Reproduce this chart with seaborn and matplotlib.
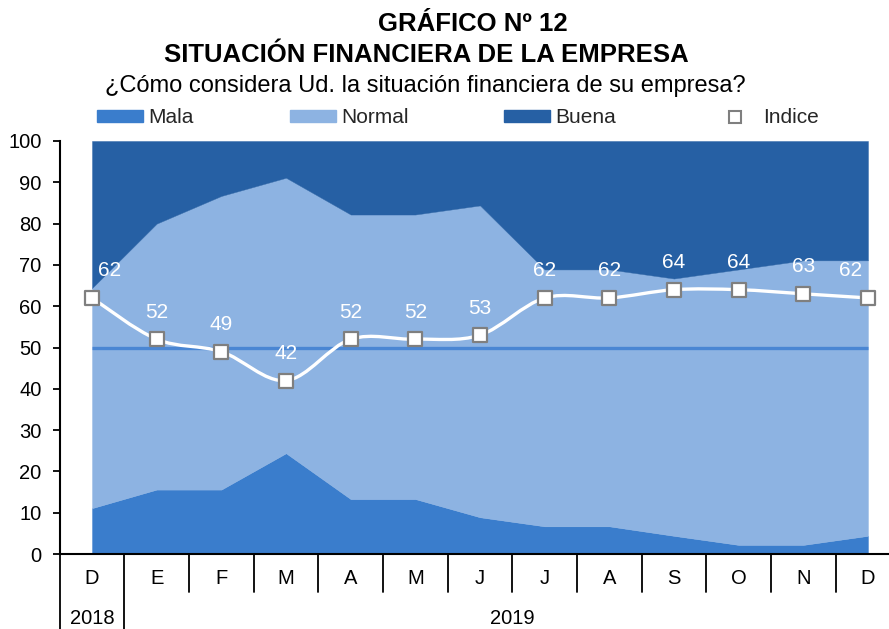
import numpy as np
import matplotlib
matplotlib.use('Agg')
import matplotlib.pyplot as plt
import seaborn as sns
from matplotlib.path import Path
from matplotlib.patches import PathPatch, Patch
from matplotlib.lines import Line2D

# data (percent of firms)
meses = ['D', 'E', 'F', 'M', 'A', 'M', 'J', 'J', 'A', 'S', 'O', 'N', 'D']
anios = ['2018', '2019']
mala = [11.1, 15.6, 15.6, 24.4, 13.3, 13.3, 8.9, 6.7, 6.7, 4.4, 2.2, 2.2, 4.4]
normal = [53.3, 64.4, 71.1, 66.7, 68.9, 68.9, 75.5, 62.2, 62.2, 62.3, 66.7, 68.9, 66.7]
buena = [35.6, 20.0, 13.3, 8.9, 17.8, 17.8, 15.6, 31.1, 31.1, 33.3, 31.1, 28.9, 28.9]
indice = [62, 52, 49, 42, 52, 52, 53, 62, 62, 64, 64, 63, 62]
linea_base = 50

c_mala = '#3a7dcc'
c_normal = '#8db3e2'
c_buena = '#2660a4'
c_base = '#4a86d3'

sns.set_theme(style='white')
plt.rcParams['font.family'] = ['Liberation Sans', 'DejaVu Sans']


def smooth_path(xs, ys):
    # excel-like smoothed line (catmull-rom as cubic bezier)
    pts = np.column_stack([xs, ys]).astype(float)
    n = len(pts)
    verts = [pts[0]]
    codes = [Path.MOVETO]
    for i in range(n - 1):
        p0 = pts[max(i - 1, 0)]
        p1 = pts[i]
        p2 = pts[i + 1]
        p3 = pts[min(i + 2, n - 1)]
        verts += [p1 + (p2 - p0) / 6, p2 - (p3 - p1) / 6, p2]
        codes += [Path.CURVE4] * 3
    return Path(verts, codes)


W, H = 889, 629
fig = plt.figure(figsize=(W / 100, H / 100), dpi=100)
ax = fig.add_axes([59.7 / W, (H - 554) / H, 840.6 / W, 413 / H])

x = np.arange(len(meses))
ax.stackplot(x, mala, normal, buena, colors=[c_mala, c_normal, c_buena],
             edgecolor='face', linewidth=0.3)
ax.hlines(linea_base, x[0], x[-1], color=c_base, lw=2.4, zorder=3)

ax.add_patch(PathPatch(smooth_path(x, indice), facecolor='none',
                       edgecolor='white', lw=2.4, zorder=4))
sns.scatterplot(x=x, y=indice, marker='s', s=100, color='white',
                edgecolor='#7f7f7f', linewidth=1.6, zorder=5, ax=ax,
                legend=False, clip_on=False)

for i, v in enumerate(indice):
    if i == 0:
        ha, dx = 'left', 4
    elif i == len(indice) - 1:
        ha, dx = 'right', -4
    else:
        ha, dx = 'center', 0
    ax.annotate(str(v), (i, v), xytext=(dx, 19.5), textcoords='offset points',
                ha=ha, va='center', color='white', fontsize=15, zorder=6)

ax.set_xlim(-0.5, len(meses) - 0.5)
ax.set_ylim(0, 100)
ax.set_yticks(range(0, 101, 10))
ax.set_xticks([])
ax.tick_params(axis='y', left=True, length=5, width=1.3, direction='out',
               pad=8, labelsize=14.5, colors='black')
for s in ['top', 'right']:
    ax.spines[s].set_visible(False)
for s in ['left', 'bottom']:
    ax.spines[s].set_color('black')
    ax.spines[s].set_linewidth(1.5)

# two level category axis
tr = ax.get_xaxis_transform()
px = 1 / 413
for k in range(len(meses) + 1):
    bottom = -75 * px if k <= 1 else -38 * px
    ax.add_line(Line2D([k - 0.5, k - 0.5], [0, bottom], transform=tr,
                       color='black', lw=1.3, clip_on=False))
for i, m in enumerate(meses):
    ax.text(i, -24 * px, m, transform=tr, ha='center', va='center',
            fontsize=14.5, color='black')
ax.text(0, -64 * px, anios[0], transform=tr, ha='center', va='center',
        fontsize=14.5, color='black')
ax.text((1 + len(meses) - 1) / 2, -64 * px, anios[1], transform=tr,
        ha='center', va='center', fontsize=14.5, color='black')

# titles
fig.text(473 / W, 1 - 31 / H, 'GRÁFICO Nº 12', ha='center', va='baseline',
         fontsize=18.5, fontweight='bold', color='black')
fig.text(426 / W, 1 - 62 / H, 'SITUACIÓN FINANCIERA DE LA EMPRESA',
         ha='center', va='baseline', fontsize=18.5, fontweight='bold',
         color='black')
fig.text(425 / W, 1 - 92 / H,
         '¿Cómo considera Ud. la situación financiera de su empresa?',
         ha='center', va='baseline', fontsize=17, color='black')

handles = [Patch(color=c_mala), Patch(color=c_normal), Patch(color=c_buena),
           Line2D([], [], ls='none', marker='s', markersize=8,
                  markerfacecolor='white', markeredgecolor='#7f7f7f',
                  markeredgewidth=1.5)]
fig.legend(handles, ['Mala', 'Normal', 'Buena', 'Indice'], loc='center',
           bbox_to_anchor=(458 / W, 1 - 118 / H), ncol=4, frameon=False,
           fontsize=15, handlelength=2.2, handleheight=0.48,
           handletextpad=0.25, columnspacing=4.6, borderpad=0)

fig.savefig('out.png', dpi=100)
